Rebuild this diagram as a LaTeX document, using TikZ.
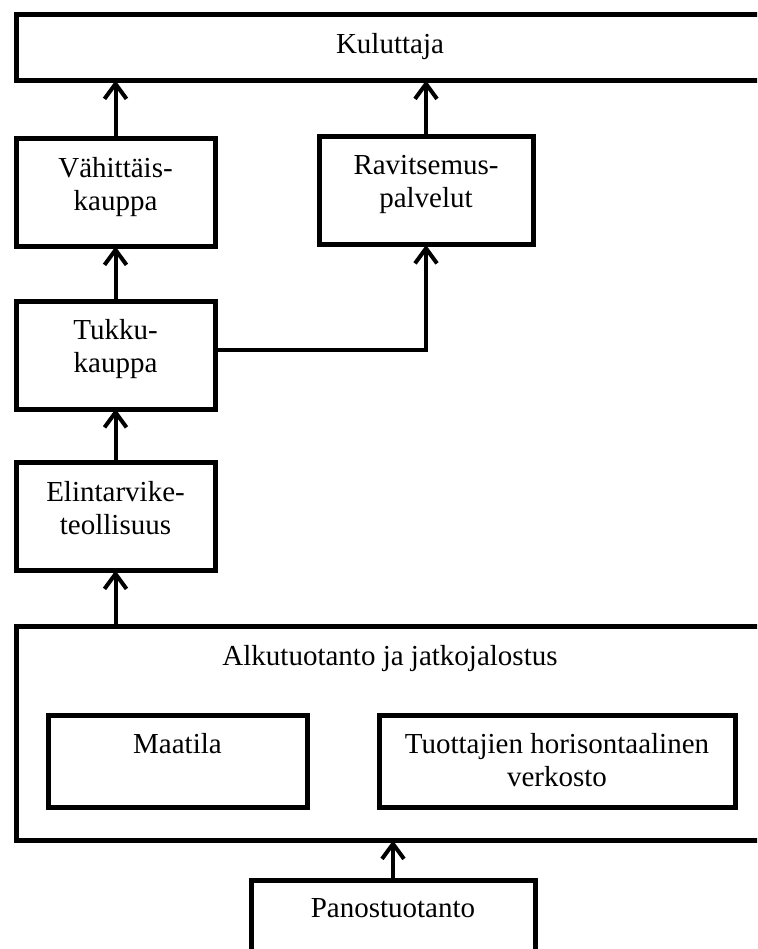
\documentclass[tikz,border=0pt]{standalone}
\usepackage{fontspec}
\setmainfont{Liberation Serif}
\usetikzlibrary{arrows.meta,positioning}

\begin{document}
\begin{tikzpicture}[
    x=1pt, y=-1pt,
    font=\fontsize{29}{33}\selectfont,
    box/.style={
        draw,
        line width=5pt,
        outer sep=0pt,
        inner sep=0pt,
        minimum width=199pt,
        minimum height=108pt
    },
    boxtext/.style={
        anchor=north,
        yshift=-18.5pt,
        inner sep=0pt,
        align=center
    },
    flow/.style={draw, line width=4pt, -{Straight Barb[length=15pt,width=22pt]}}
]
\clip (0,0) rectangle (757,949);

% top row
\node[box, minimum width=748pt, minimum height=66pt, anchor=north west,
    label={[boxtext]north:Kuluttaja}] (kuluttaja) at (16,14.5) {};
\node[box, anchor=north west,
    label={[boxtext]north:Vähittäis-\\kauppa}] (vahittais) at (16,138.5) {};
\node[box, minimum width=214pt, anchor=north west,
    label={[boxtext]north:Ravitsemus-\\palvelut}] (ravitsemus) at (319,137) {};

% left column
\node[box, below=54.5pt of vahittais,
    label={[boxtext]north:Tukku-\\kauppa}] (tukku) {};
\node[box, below=53.5pt of tukku,
    label={[boxtext]north:Elintarvike-\\teollisuus}] (elintarvike) {};

% primary production
\node[box, minimum width=748pt, minimum height=214pt, anchor=north west,
    label={[boxtext]north:Alkutuotanto ja jatkojalostus}] (alkutuotanto) at (16,626.5) {};
\node[box, minimum width=259pt, minimum height=92pt, anchor=north west,
    label={[boxtext]north:Maatila}] (maatila) at (48,715) {};
\node[box, minimum width=356pt, minimum height=92pt, anchor=north west,
    label={[boxtext]north:Tuottajien horisontaalinen\\verkosto}] (tuottajat) at (379,715) {};
\node[box, minimum width=284pt, minimum height=100pt, anchor=north west,
    label={[boxtext]north:Panostuotanto}] (panos) at (251,880) {};

% flows
\draw[flow] (vahittais.north) -- (vahittais.north |- kuluttaja.south);
\draw[flow] (ravitsemus.north) -- (ravitsemus.north |- kuluttaja.south);
\draw[flow] (tukku.north) -- (vahittais.south);
\draw[flow] ([yshift=5pt]tukku.east) -| (ravitsemus.south);
\draw[flow] (elintarvike.north) -- (tukku.south);
\draw[flow] (elintarvike.south |- alkutuotanto.north) -- (elintarvike.south);
\draw[flow] (panos.north) -- (panos.north |- alkutuotanto.south);
\end{tikzpicture}
\end{document}
